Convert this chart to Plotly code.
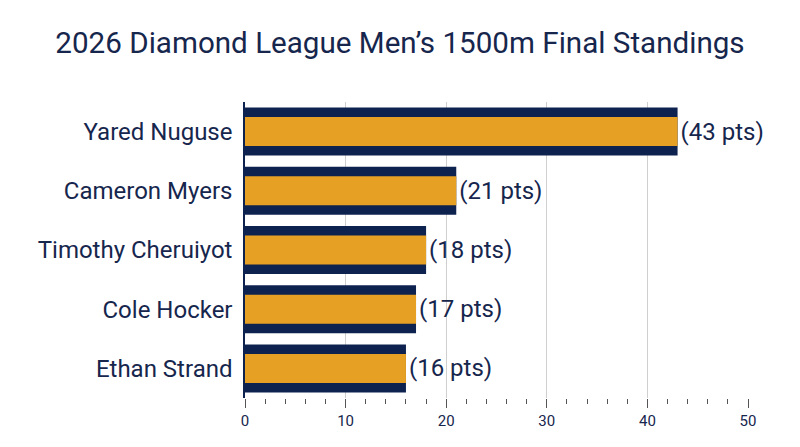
import plotly.graph_objects as go

# Final standings (points)
athletes = ['Yared Nuguse', 'Cameron Myers', 'Timothy Cheruiyot',
            'Cole Hocker', 'Ethan Strand']
points = [43, 21, 18, 17, 16]
point_labels = ['(43 pts)', '(21 pts)', '(18 pts)', '(17 pts)', '(16 pts)']

NAVY = '#0e2250'
GOLD = '#e6a024'
TEXT = '#16264d'

fig = go.Figure()

# wide navy bar behind
fig.add_trace(go.Bar(
    y=athletes, x=points, orientation='h',
    width=0.81, marker=dict(color=NAVY, line=dict(width=0)),
    hoverinfo='skip', showlegend=False
))

# narrower gold bar on top, carries the labels
fig.add_trace(go.Bar(
    y=athletes, x=points, orientation='h',
    width=0.49, marker=dict(color=GOLD, line=dict(width=0)),
    text=point_labels, textposition='outside', cliponaxis=False,
    textfont=dict(size=24, color=TEXT, family='Roboto'),
    showlegend=False
))

fig.update_layout(
    barmode='overlay',
    width=800, height=447,
    margin=dict(l=237, r=60, t=94, b=57),
    paper_bgcolor='white', plot_bgcolor='white',
    font=dict(family='Roboto', color=TEXT),
    title=dict(text='2026 Diamond League Men\u2019s 1500m Final Standings',
               x=0.49, xanchor='center', y=0.922, yanchor='middle',
               font=dict(size=29.6, color=TEXT, family='Roboto')),
    xaxis=dict(range=[0, 50], dtick=10, showgrid=True, gridcolor='#cfcfcf',
               gridwidth=1, zeroline=False, showline=False,
               ticks='outside', ticklen=9, tickcolor='#555555',
               minor=dict(dtick=2, ticks='outside', ticklen=5,
                          tickcolor='#555555', showgrid=False),
               tickfont=dict(size=15, color=TEXT)),
    yaxis=dict(autorange='reversed', showline=True, linecolor=NAVY,
               linewidth=1.5, ticks='', ticksuffix=' ',
               tickfont=dict(size=24, color=TEXT)),
)

fig.write_html('out.html')
